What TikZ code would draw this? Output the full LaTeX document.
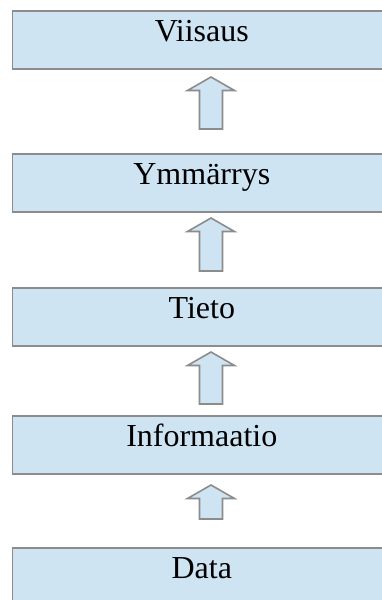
\documentclass[tikz,border=0pt]{standalone}
\usepackage{fontspec}
\setmainfont{Liberation Serif}
\usetikzlibrary{calc}
\definecolor{boxfill}{RGB}{207,228,243}
\definecolor{edgegray}{RGB}{140,140,140}
\tikzset{
  level/.style={draw=edgegray, line width=1.6pt, fill=boxfill, rectangle,
    inner sep=0pt, minimum width=379pt, text height=30.5pt, text depth=27.5pt,
    font=\fontsize{32}{38}\selectfont, anchor=north west},
  blockarrow/.style={draw=edgegray, line width=1.6pt, fill=boxfill, line join=miter},
}
% block arrow pointing up from #2 (shaft foot) to #1 (tip)
\newcommand\upblock[2]{%
  \draw[blockarrow] ($(#2)+(-11.5,0)$) -- ($(#2)+(11.5,0)$)
    -- ($(#1)+(11.5,13.5)$) -- ($(#1)+(23.5,13.5)$) -- (#1)
    -- ($(#1)+(-23.5,13.5)$) -- ($(#1)+(-11.5,13.5)$) -- cycle;}
\begin{document}
\begin{tikzpicture}[x=1pt, y=-1pt]
  \useasboundingbox (0,0) rectangle (382,600);
  \clip (0,0) rectangle (382,600);
  \node[level] (viisaus)  at (11.5,10)  {Viisaus};
  \node[level] (ymmarrys) at (11.5,153) {Ymmärrys};
  \node[level] (tieto)    at (11.5,287) {Tieto};
  \node[level] (info)     at (11.5,415) {Informaatio};
  \node[level] (data)     at (11.5,547) {Data};
  % arrow tips and feet
  \coordinate (t1) at (211,77);  \coordinate (f1) at (211,129);
  \coordinate (t2) at (211,218); \coordinate (f2) at (211,271);
  \coordinate (t3) at (211,352); \coordinate (f3) at (211,404);
  \coordinate (t4) at (211,485); \coordinate (f4) at (211,519);
  \upblock{t1}{f1}
  \upblock{t2}{f2}
  \upblock{t3}{f3}
  \upblock{t4}{f4}
\end{tikzpicture}
\end{document}
